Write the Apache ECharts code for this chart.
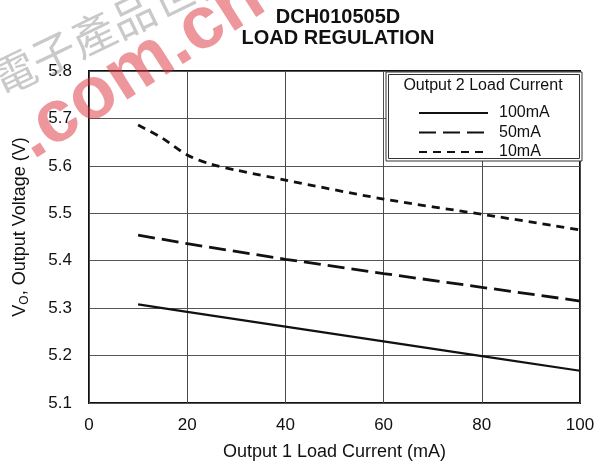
<!DOCTYPE html>
<html>
<head>
<meta charset="utf-8">
<script src="https://cdn.jsdelivr.net/npm/echarts@6/dist/echarts.min.js"></script>
<style>
  html, body { margin: 0; padding: 0; background: #fff; }
  #chart { width: 607px; height: 472px; }
</style>
</head>
<body>
<div id="chart"></div>
<script>
// ---- data ----
const titleLines = ['DCH010505D', 'LOAD REGULATION'];
const xAxisName = 'Output 1 Load Current (mA)';
const legendTitle = 'Output 2 Load Current';
const seriesNames = ['100mA', '50mA', '10mA'];

const x100 = [10, 20, 40, 60, 80, 100];
const v100 = [5.308, 5.292, 5.261, 5.230, 5.199, 5.168];

const x50 = [10, 20, 40, 60, 80, 100];
const v50 = [5.454, 5.436, 5.403, 5.373, 5.344, 5.315];

const x10 = [10, 15, 20, 25, 30, 40, 60, 80, 100];
const v10 = [5.686, 5.658, 5.623, 5.603, 5.591, 5.570, 5.530, 5.498, 5.465];

const xTicks = [0, 20, 40, 60, 80, 100];
const yTicks = [5.1, 5.2, 5.3, 5.4, 5.5, 5.6, 5.7, 5.8];

const pair = (xs, vs) => xs.map((x, i) => [x, vs[i]]);

const FONT = '"Liberation Sans", Arial, Helvetica, sans-serif';
const chart = echarts.init(document.getElementById('chart'), null, { renderer: 'canvas' });

const option = {
  animation: false,
  backgroundColor: '#fff',
  title: {
    text: titleLines.join('\n'),
    left: 333,
    textAlign: 'center',
    top: 2,
    textStyle: { fontFamily: FONT, fontSize: 20, fontWeight: 'bold', color: '#111', lineHeight: 21 }
  },
  grid: {
    left: 89, right: 27, top: 71, bottom: 69,
    show: true, borderColor: '#111', borderWidth: 2, backgroundColor: 'transparent'
  },
  xAxis: {
    type: 'value',
    min: xTicks[0], max: xTicks[xTicks.length - 1], interval: 20,
    name: xAxisName,
    nameLocation: 'middle',
    nameGap: 40,
    nameTextStyle: { fontFamily: FONT, fontSize: 18, color: '#111' },
    axisLine: { show: false },
    axisTick: { show: false },
    axisLabel: { fontFamily: FONT, fontSize: 17, color: '#111', margin: 14 },
    splitLine: { show: true, lineStyle: { color: '#4a4a4a', width: 1 } }
  },
  yAxis: {
    type: 'value',
    min: yTicks[0], max: yTicks[yTicks.length - 1], interval: 0.1,
    name: '{v|V}{s|O}{v|, Output Voltage (V)}',
    nameLocation: 'middle',
    nameRotate: 90,
    nameGap: 58,
    nameTextStyle: {
      fontFamily: FONT, fontSize: 18, color: '#111',
      padding: [0, 0, 0, 20],
      rich: {
        v: { fontFamily: FONT, fontSize: 18, color: '#111' },
        s: { fontFamily: FONT, fontSize: 12, color: '#111', padding: [10, 0, 0, 0] }
      }
    },
    axisLine: { show: false },
    axisTick: { show: false },
    axisLabel: {
      fontFamily: FONT, fontSize: 17, color: '#111', margin: 17,
      formatter: v => v.toFixed(1)
    },
    splitLine: { show: true, lineStyle: { color: '#555', width: 1 } }
  },
  legend: {
    orient: 'vertical',
    left: 413,
    top: 100,
    itemWidth: 69,
    itemHeight: 14,
    itemGap: 3.5,
    z: 6,
    data: seriesNames,
    itemStyle: { opacity: 0 },
    textStyle: { fontFamily: FONT, fontSize: 16, lineHeight: 14, color: '#111', padding: [0, 0, 0, 6] }
  },
  graphic: [
    { type: 'rect', z: 3, shape: { x: 386, y: 72, width: 196, height: 89 },
      style: { fill: '#fff', stroke: '#333', lineWidth: 1 } },
    { type: 'rect', z: 3, shape: { x: 388.5, y: 74.5, width: 191, height: 84 },
      style: { fill: '#fff', stroke: '#333', lineWidth: 1 } },
    { type: 'text', z: 4, x: 483, y: 86,
      style: { text: legendTitle, font: '16px ' + FONT, fill: '#111', textAlign: 'center', textVerticalAlign: 'middle' } },
    // watermark overlay
    { type: 'text', z: 50, x: -6, y: 82, rotation: 0.45,
      style: { text: '電子產品世界', font: '44px "Noto Sans CJK TC"', fill: 'rgba(120,120,120,0.4)', textAlign: 'left', textVerticalAlign: 'middle' } },
    { type: 'text', z: 50, x: 42, y: 174, rotation: 0.57,
      style: { text: '.com.cn', font: 'bold 74px ' + FONT, fill: 'rgba(220,45,55,0.5)', textAlign: 'left', textVerticalAlign: 'bottom' } }
  ],
  series: [
    { name: seriesNames[0], type: 'line', data: pair(x100, v100), symbol: 'none', smooth: false,
      lineStyle: { color: '#111', width: 2.2, type: 'solid' }, itemStyle: { color: '#111' } },
    { name: seriesNames[1], type: 'line', data: pair(x50, v50), symbol: 'none', smooth: false,
      lineStyle: { color: '#111', width: 2.8, type: [17, 7] }, itemStyle: { color: '#111' } },
    { name: seriesNames[2], type: 'line', data: pair(x10, v10), symbol: 'none', smooth: 0.3,
      lineStyle: { color: '#111', width: 2.8, type: [8, 6] }, itemStyle: { color: '#111' } }
  ]
};
chart.setOption(option);
</script>
</body>
</html>
